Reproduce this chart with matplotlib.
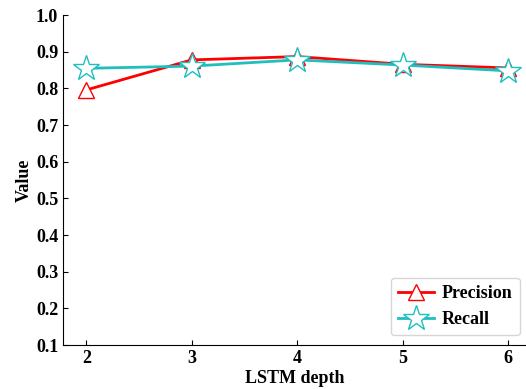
import matplotlib.pyplot as plt

depth = [2, 3, 4, 5, 6]
precision = [0.796, 0.878, 0.887, 0.866, 0.856]
recall = [0.855, 0.861, 0.878, 0.864, 0.848]

plt.rcParams['font.family'] = 'Liberation Serif'
plt.rcParams['font.weight'] = 'bold'

fig = plt.figure(figsize=(5.26, 3.89), dpi=100)
ax = fig.add_axes([0.12, 0.113, 0.88, 0.848])

ax.plot(depth, precision, color='red', lw=2, marker='^', markersize=12,
        markerfacecolor='white', markeredgecolor='red', label='Precision')
ax.plot(depth, recall, color='#1fbfbf', lw=2, marker='*', markersize=19,
        markerfacecolor='white', markeredgecolor='#1fbfbf', markeredgewidth=1,
        label='Recall')

ax.set_xlim(1.78, 6.17)
ax.set_ylim(0.1, 1.0)
ax.set_xticks(depth)
ax.set_yticks([0.1, 0.2, 0.3, 0.4, 0.5, 0.6, 0.7, 0.8, 0.9, 1.0])
ax.tick_params(direction='in', labelsize=13)
for lab in ax.get_xticklabels() + ax.get_yticklabels():
    lab.set_fontweight('bold')
ax.spines['top'].set_visible(False)
ax.spines['right'].set_visible(False)

ax.set_xlabel('LSTM depth', fontsize=13, fontweight='bold', labelpad=2)
ax.set_ylabel('Value', fontsize=13, fontweight='bold', labelpad=2.5)

ax.legend(loc='lower right', bbox_to_anchor=(0.987, 0.03), borderaxespad=0,
          prop={'weight': 'bold', 'size': 13},
          handlelength=2.0, handletextpad=0.45)

fig.savefig('out.png', dpi=100)
